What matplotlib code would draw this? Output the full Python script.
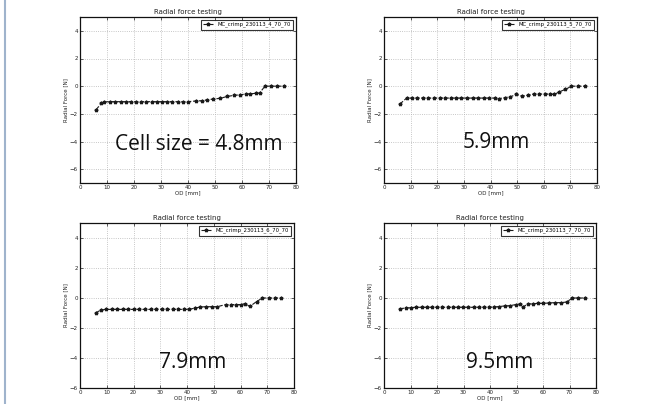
import matplotlib
matplotlib.use("Agg")
import matplotlib.pyplot as plt
from matplotlib.lines import Line2D

# ---- data ----
od_1 = [6, 7.9, 9, 11, 13.1, 15, 16.9, 18.75, 20.6, 22.5, 24.6, 26.5, 28.5, 30.4, 32.3, 34.1,
        36.3, 38.1, 40, 43.1, 45, 46.9, 49.4, 51.9, 54.6, 56.9, 59.4, 61.3, 63.1, 65, 66.5,
        68.5, 70.6, 72.9, 75.4]
force_1 = [-1.69, -1.24, -1.14, -1.12, -1.12, -1.12, -1.12, -1.12, -1.12, -1.12, -1.12, -1.12,
           -1.12, -1.12, -1.12, -1.12, -1.12, -1.12, -1.12, -1.07, -1.05, -1.0, -0.93, -0.88,
           -0.74, -0.67, -0.62, -0.57, -0.55, -0.52, -0.5, 0.0, 0.0, 0.0, 0.0]

od_2 = [6, 8.5, 10.6, 12.5, 14.6, 16.6, 18.75, 20.9, 22.9, 25, 27.1, 29.1, 31.2, 33.4, 35.4,
        37.5, 39.6, 41.6, 43.1, 45.4, 47.5, 49.75, 51.9, 54, 56.25, 58.4, 60.4, 62.5, 64,
        65.9, 68.1, 70.4, 72.9, 75.4]
force_2 = [-1.29, -0.86, -0.86, -0.86, -0.86, -0.86, -0.86, -0.86, -0.86, -0.86, -0.86, -0.86,
           -0.86, -0.86, -0.86, -0.86, -0.86, -0.86, -0.9, -0.83, -0.76, -0.6, -0.71, -0.67,
           -0.57, -0.57, -0.57, -0.57, -0.6, -0.4, -0.24, 0.0, 0.0, 0.0]

od_3 = [6, 7.8, 9.7, 11.8, 13.9, 15.9, 18.0, 20.2, 22.2, 24.3, 26.4, 28.4, 30.5, 32.6, 34.6,
        36.7, 38.9, 40.8, 43, 45, 47, 49.2, 51.3, 54.4, 56.3, 58.3, 60.1, 61.6, 63.5, 66,
        68.2, 70.6, 72.9, 75.1]
force_3 = [-0.98, -0.8, -0.76, -0.76, -0.76, -0.76, -0.76, -0.76, -0.76, -0.76, -0.76, -0.76,
           -0.76, -0.76, -0.76, -0.76, -0.76, -0.76, -0.67, -0.6, -0.58, -0.58, -0.58, -0.44,
           -0.44, -0.44, -0.44, -0.38, -0.56, -0.24, 0.0, 0.0, 0.0, 0.0]

od_4 = [6, 8.2, 10, 12.2, 14.2, 16.1, 18.2, 20.1, 22, 24.2, 26.0, 27.9, 29.9, 31.8, 33.8,
        35.8, 37.7, 39.6, 41.5, 43.4, 45.5, 47.5, 49.7, 51.3, 52.6, 54.3, 56.2, 58.1, 60.1,
        62.3, 64.4, 66.7, 68.9, 71.1, 73.3, 75.8]
force_4 = [-0.71, -0.67, -0.64, -0.62, -0.62, -0.62, -0.62, -0.62, -0.62, -0.62, -0.62, -0.62,
           -0.62, -0.62, -0.62, -0.62, -0.62, -0.62, -0.6, -0.57, -0.53, -0.51, -0.44, -0.4,
           -0.58, -0.4, -0.38, -0.36, -0.36, -0.33, -0.31, -0.31, -0.27, 0.0, 0.0, 0.0]

labels = ["MC_crimp_230113_4_70_70", "MC_crimp_230113_5_70_70",
          "MC_crimp_230113_6_70_70", "MC_crimp_230113_7_70_70"]
notes = ["Cell size = 4.8mm", "5.9mm", "7.9mm", "9.5mm"]
note_pos = [(44, -4.2), (42, -4.1), (42, -4.3), (43.5, -4.3)]
ylims = [(-7, 5), (-7, 5), (-6, 5), (-6, 5)]
title = "Radial force testing"
xticks = [0, 10, 20, 30, 40, 50, 60, 70, 80]
yticks = [-6, -4, -2, 0, 2, 4]

series = [(od_1, force_1), (od_2, force_2), (od_3, force_3), (od_4, force_4)]

# ---- layout ----
W, H = 655, 404
rects = [
    (80, 17, 216, 166),
    (384, 17, 213, 166),
    (80, 223, 214, 165),
    (384, 223, 212, 165),
]

fig = plt.figure(figsize=(W / 100, H / 100), dpi=100)
fig.patch.set_facecolor("white")

for i, (r, (xs, ys)) in enumerate(zip(rects, series)):
    x0, y0, w, h = r
    ax = fig.add_axes([x0 / W, 1 - (y0 + h) / H, w / W, h / H])
    ax.plot(xs, ys, linestyle="--", color="#1a1a1a", marker="*", markersize=2.6,
            linewidth=0.8, label=labels[i])
    ax.set_xlim(0, 80)
    ax.set_ylim(*ylims[i])
    ax.set_xticks(xticks)
    ax.set_yticks(yticks)
    ax.grid(True, color="#b5b5b5", linestyle=":", linewidth=0.6)
    ax.tick_params(direction="in", labelsize=4, length=2, width=0.5, pad=1.5,
                   top=True, right=True, colors="#222222")
    for sp in ax.spines.values():
        sp.set_linewidth(0.9)
        sp.set_color("#111111")
    ax.set_title(title, fontsize=5, pad=2, color="#222222")
    ax.set_xlabel("OD [mm]", fontsize=4, labelpad=0.5, color="#222222")
    ax.set_ylabel("Radial Force [N]", fontsize=4, labelpad=1, color="#222222")
    leg = ax.legend(loc="upper right", fontsize=3.8, frameon=True, fancybox=False,
                    borderpad=0.4, handlelength=2.0, borderaxespad=0.5, markerscale=1.0)
    leg.get_frame().set_edgecolor("black")
    leg.get_frame().set_linewidth(0.8)
    ax.text(note_pos[i][0], note_pos[i][1], notes[i], fontsize=15, ha="center",
            va="center", family=["Open Sans", "DejaVu Sans"], color="#111111")

# left slide border
fig.add_artist(Line2D([4.5 / W, 4.5 / W], [0, 1], color="#9fb3cc", linewidth=1.5))

fig.savefig("out.png", dpi=100)
